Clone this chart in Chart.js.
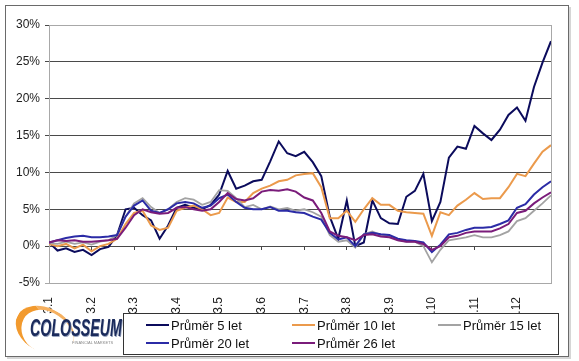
<!DOCTYPE html>
<html><head><meta charset="utf-8">
<script src="https://cdn.jsdelivr.net/npm/chart.js@4.4.1/dist/chart.umd.min.js"></script>
<style>
html,body{margin:0;padding:0;background:#fff;}
#wrap{position:relative;width:579px;height:361px;overflow:hidden;font-family:"Liberation Sans",Arial,sans-serif;}
#c{position:absolute;left:0;top:0;}
#frame{position:absolute;left:5px;top:5px;width:564px;height:352px;border:1px solid #6a6a6a;box-sizing:border-box;pointer-events:none;box-shadow:2px 2px 0 #d6d6d6;}
#legend{position:absolute;left:123px;top:313px;width:436px;height:42px;border:1px solid #333;box-sizing:border-box;background:#fff;}
.li{position:absolute;height:15px;}
.ln{position:absolute;top:6px;width:23px;height:2px;}
.lt{position:absolute;left:25px;top:0;font-size:13px;line-height:15px;color:#111;white-space:nowrap;}
#logo{position:absolute;left:8px;top:300px;width:114px;height:55px;}
#swoosh{position:absolute;left:6px;top:8px;width:62px;height:44px;border-radius:50%;border-left:7px solid #f29a2e;border-top:3px solid #f5b060;border-right:0 solid transparent;border-bottom:0 solid transparent;box-sizing:border-box;transform:rotate(28deg);}
#logotext{position:absolute;left:22px;top:17px;font:italic bold 23px "Liberation Sans",Arial,sans-serif;line-height:23px;color:#1b2b5c;transform:scaleX(0.62);transform-origin:left top;white-space:nowrap;text-shadow:1px 1px 0 #9aa6c0;}
#logosub{position:absolute;left:64px;top:41px;font-size:4px;line-height:4px;color:#888;white-space:nowrap;}
</style></head>
<body>
<div id="wrap">
<canvas id="c" width="579" height="361"></canvas>
<div id="frame"></div>
<div id="logo"><div id="swoosh"></div><div id="logotext">COLOSSEUM</div><div id="logosub">FINANCIAL MARKETS</div></div>
<div id="legend"></div>
</div>
<script>
// x-axis tick labels (start of each month)
const months = ["3.1","3.2","3.3","3.4","3.5","3.6","3.7","3.8","3.9","3.10","3.11","3.12"];
// readings taken every 0.2 month
const STEP = 0.2;
const yTicksMin = -5, yTicksMax = 30, yStep = 5;

const prumer5 = [0.5,-0.6,-0.3,-0.8,-0.5,-1.2,-0.4,-0.1,1.5,5.0, 5.2,4.2,3.5,1.0,2.8,5.2,5.6,5.2,5.0,5.6,
  7.0,10.2,7.8,8.2,8.8,9.0,11.5,14.2,12.6,12.2, 12.8,11.4,9.5,4.0,1.0,6.2,0.0,0.5,6.2,3.8,
  3.1,3.0,6.7,7.5,9.8,3.4,6.0,12.0,13.5,13.2, 16.3,15.3,14.4,15.8,17.8,18.8,17.0,21.6,24.9,27.8];
const prumer10 = [0.3,0.0,0.3,-0.3,0.2,-0.7,0.0,0.3,1.0,3.0, 4.5,4.8,2.8,2.2,2.5,4.8,5.2,5.5,5.0,4.2,
  4.5,6.6,6.0,6.0,7.2,7.8,8.2,8.8,9.0,9.6, 9.8,9.9,8.0,3.8,3.8,4.8,3.3,5.0,6.5,5.6,
  5.6,4.8,4.6,4.5,4.4,1.4,4.6,4.2,5.5,6.3, 7.2,6.4,6.5,6.5,8.0,9.8,9.5,11.2,12.8,13.7];
const prumer15 = [0.4,0.3,0.6,0.3,0.5,0.2,0.6,0.8,1.5,4.0, 5.8,6.5,5.3,4.5,5.0,6.0,6.5,6.3,5.6,6.0,
  7.6,7.5,6.5,5.3,5.6,5.0,5.4,5.0,5.2,4.8, 5.0,4.6,4.0,1.5,0.6,0.8,-0.2,1.6,2.0,1.5,
  1.4,0.8,0.6,0.6,0.0,-2.2,-0.5,0.8,1.0,1.2, 1.5,1.2,1.2,1.5,2.0,3.4,3.8,4.8,5.8,6.9];
const prumer20 = [0.5,0.8,1.1,1.3,1.4,1.2,1.2,1.3,1.5,4.0, 5.5,6.2,4.8,4.5,5.0,5.8,6.0,5.8,5.2,5.5,
  6.5,7.0,6.0,5.2,5.0,5.0,5.3,4.8,4.8,4.6, 4.5,4.0,3.6,1.8,0.9,1.2,0.0,1.6,1.8,1.6,
  1.5,1.0,0.8,0.7,0.5,-0.8,0.2,1.6,1.8,2.2, 2.5,2.5,2.6,3.0,3.5,5.2,5.7,7.0,8.0,8.8];
const prumer26 = [0.5,0.8,0.7,0.8,0.6,0.6,0.7,0.8,1.0,2.5, 4.2,5.0,4.6,4.4,4.5,5.2,5.3,5.0,4.8,5.0,
  6.0,7.2,6.4,6.2,6.5,7.4,7.6,7.5,7.7,7.4, 6.6,6.2,4.5,2.0,1.4,1.2,0.8,1.5,1.6,1.3,
  1.2,0.8,0.6,0.6,0.3,-0.5,0.0,1.2,1.4,1.8, 2.0,2.0,2.0,2.4,3.0,4.5,4.8,5.8,6.6,7.3];

const seriesNames = ["Průměr 5 let","Průměr 10 let","Průměr 15 let","Průměr 20 let","Průměr 26 let"];
const seriesData = [prumer5, prumer10, prumer15, prumer20, prumer26];
const seriesColors = ["#0b0b5c","#eb9a4c","#a3a3a3","#2b2ba6","#7a1c7a"];
const seriesWidths = [2, 2, 1.8, 2, 2];

const datasets = seriesData.map((arr, k) => ({
  label: seriesNames[k],
  data: arr.map((v, i) => ({x: i * STEP, y: v})),
  borderColor: seriesColors[k],
  backgroundColor: seriesColors[k],
  borderWidth: seriesWidths[k],
  pointRadius: 0,
  tension: 0,
  fill: false,
  order: seriesData.length - k
}));
const xMax = (prumer5.length - 1) * STEP;

const plotFrame = {
  id: 'plotFrame',
  beforeDatasetsDraw(chart) {
    const a = chart.chartArea, ctx = chart.ctx;
    ctx.save();
    ctx.strokeStyle = '#a8a8a8';
    ctx.lineWidth = 1;
    ctx.strokeRect(Math.round(a.left) + 0.5, Math.round(a.top) + 0.5, Math.round(a.right - a.left), Math.round(a.bottom - a.top));
    ctx.restore();
  }
};

const font = {family: '"Liberation Sans", Arial, sans-serif', size: 12};

new Chart(document.getElementById('c'), {
  type: 'line',
  data: {datasets},
  plugins: [plotFrame],
  options: {
    responsive: false,
    animation: false,
    layout: {padding: {left: 0, top: 25, right: 28, bottom: 0}},
    plugins: {legend: {display: false}, tooltip: {enabled: false}},
    scales: {
      x: {
        type: 'linear', position: 'bottom', min: 0, max: xMax,
        grid: {display: false},
        border: {display: false},
        ticks: {
          stepSize: 1, autoSkip: false, maxRotation: 90, minRotation: 90, padding: 6,
          color: '#222', font,
          callback: v => months[Math.round(v)] ?? ''
        },
        afterFit(s) { s.height = 78; s.paddingLeft = 0; s.paddingRight = 0; }
      },
      x2: {
        type: 'linear', position: {y: 0}, min: 0, max: xMax, axis: 'x',
        grid: {drawOnChartArea: false, drawTicks: true, tickLength: 4, color: '#444'},
        border: {display: false},
        ticks: {stepSize: 1, display: false},
        afterFit(s) { s.height = 0; s.paddingLeft = 0; s.paddingRight = 0; }
      },
      y: {
        type: 'linear', position: 'left', min: yTicksMin, max: yTicksMax,
        grid: {color: c => (c.tick && c.tick.value === yTicksMin) ? '#a8a8a8' : '#4a4a4a', tickLength: 4, drawTicks: true},
        border: {display: true, color: '#4a4a4a'},
        ticks: {stepSize: yStep, padding: 5, color: '#222', font, callback: v => v + '%'},
        afterFit(s) { s.width = 49; s.paddingTop = 0; s.paddingBottom = 0; }
      }
    }
  }
});

// legend (text built from series names)
const legendPos = [[22,4],[168,4],[314,4],[22,22],[168,22]];
const lg = document.getElementById('legend');
seriesNames.forEach((name, k) => {
  const it = document.createElement('div');
  it.className = 'li';
  it.style.left = legendPos[k][0] + 'px';
  it.style.top = legendPos[k][1] + 'px';
  const ln = document.createElement('div');
  ln.className = 'ln';
  ln.style.background = seriesColors[k];
  const tx = document.createElement('div');
  tx.className = 'lt';
  tx.textContent = name;
  it.appendChild(ln); it.appendChild(tx);
  lg.appendChild(it);
});
</script>
</body></html>
